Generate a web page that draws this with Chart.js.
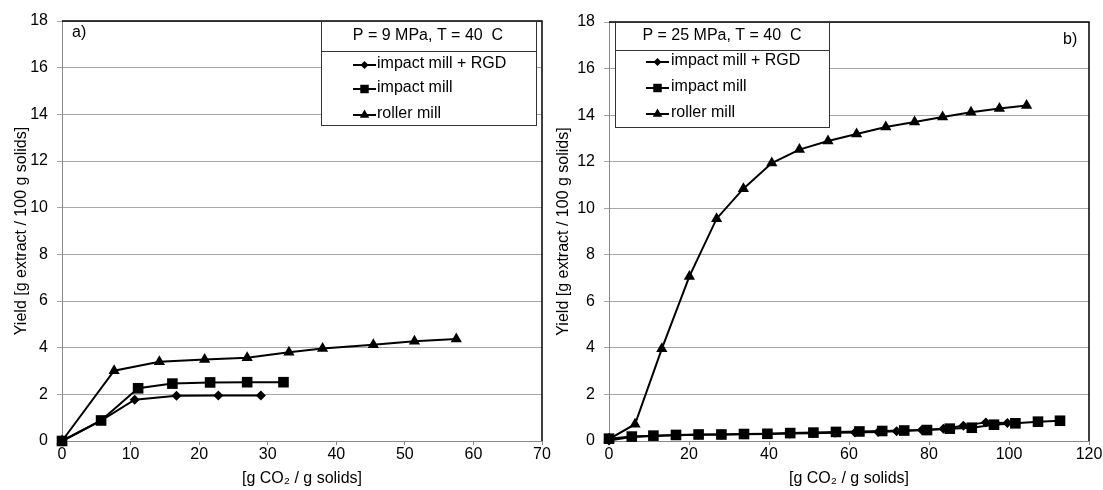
<!DOCTYPE html>
<html>
<head>
<meta charset="utf-8">
<script src="https://cdn.jsdelivr.net/npm/chart.js@4"></script>
<style>
  body { margin: 0; background: #fff; }
  .panel { position: absolute; top: 0; }
</style>
</head>
<body>
<div class="panel" style="left:0"><canvas id="chartA" width="551" height="490"></canvas></div>
<div class="panel" style="left:551px"><canvas id="chartB" width="552" height="490"></canvas></div>
<script>
// Panel a) P = 9 MPa
const aRgdX = [0, 5.7, 10.6, 16.7, 22.8, 29.0];
const aRgdY = [0, 0.87, 1.77, 1.94, 1.95, 1.95];
const aImpactX = [0, 5.7, 11.1, 16.1, 21.6, 27.0, 32.3];
const aImpactY = [0, 0.88, 2.26, 2.46, 2.51, 2.52, 2.52];
const aRollerX = [0, 7.6, 14.2, 20.8, 27.0, 33.1, 38.0, 45.4, 51.4, 57.5];
const aRollerY = [0, 3.01, 3.40, 3.49, 3.57, 3.80, 3.96, 4.13, 4.27, 4.37];

// Panel b) P = 25 MPa
const bRgdX = [0, 5.6, 11.0, 16.7, 22.3, 28.0, 33.7, 39.4, 45.2, 51.1, 56.5, 61.5, 67.3, 71.9, 78.2, 83.6, 88.6, 94.2, 99.6];
const bRgdY = [0.02, 0.17, 0.22, 0.25, 0.27, 0.28, 0.29, 0.30, 0.32, 0.33, 0.35, 0.37, 0.39, 0.42, 0.47, 0.53, 0.66, 0.80, 0.77];
const bImpactX = [0, 5.7, 11.1, 16.75, 22.4, 28.1, 33.75, 39.6, 45.3, 51.1, 56.75, 62.6, 68.3, 73.8, 79.5, 85.2, 90.7, 96.25, 101.6, 107.25, 112.75];
const bImpactY = [0.1, 0.19, 0.23, 0.26, 0.28, 0.28, 0.30, 0.31, 0.34, 0.36, 0.39, 0.41, 0.43, 0.45, 0.47, 0.53, 0.57, 0.70, 0.76, 0.83, 0.87];
const bRollerX = [0, 6.5, 13.2, 20.1, 26.9, 33.6, 40.7, 47.6, 54.75, 61.9, 69.2, 76.4, 83.4, 90.5, 97.6, 104.4];
const bRollerY = [0.08, 0.72, 3.96, 7.07, 9.55, 10.84, 11.94, 12.52, 12.89, 13.19, 13.49, 13.70, 13.92, 14.12, 14.28, 14.41];

const seriesNames = ['impact mill + RGD', 'impact mill', 'roller mill'];
const yTicksMax = 18;

const FONT = '"Liberation Sans", Arial, sans-serif';
const font16 = { family: FONT, size: 16 };
const markerStyles = ['rectRot', 'rect', 'triangle'];
const markerRadius = [5, 7.5, 6.5];
const legendRadius = [4, 6, 5.5];

const pairs = (xs, ys) => xs.map((x, i) => ({ x: x, y: ys[i] }));

const makeDataset = (idx, xs, ys) => ({
    label: seriesNames[idx],
    data: pairs(xs, ys),
    showLine: true,
    clip: false,
    borderColor: '#000',
    backgroundColor: '#000',
    borderWidth: 2,
    pointStyle: markerStyles[idx],
    pointRadius: markerRadius[idx],
    pointBorderWidth: 0,
    pointBackgroundColor: '#000',
    tension: 0
});

// frame, panel label and the boxed legend
const decoPlugin = {
    id: 'deco',
    afterDraw(chart, args, opts) {
        const ctx = chart.ctx;
        const a = chart.chartArea;
        ctx.save();
        // black top and right border of the plot area
        ctx.strokeStyle = '#000';
        ctx.lineWidth = 1.5;
        ctx.beginPath();
        ctx.moveTo(a.left, a.top);
        ctx.lineTo(a.right, a.top);
        ctx.lineTo(a.right, a.bottom);
        ctx.stroke();

        ctx.font = '16px ' + FONT;
        ctx.fillStyle = '#000';
        ctx.textBaseline = 'middle';
        ctx.textAlign = 'left';
        ctx.fillText(opts.label, opts.labelX, opts.labelY);

        // legend box
        const b = opts.box;
        ctx.fillStyle = '#fff';
        ctx.fillRect(b.x1, b.y1, b.x2 - b.x1, b.y2 - b.y1);
        ctx.strokeStyle = '#333';
        ctx.lineWidth = 1;
        ctx.strokeRect(b.x1 + 0.5, b.y1 + 0.5, b.x2 - b.x1, b.y2 - b.y1);
        ctx.beginPath();
        ctx.moveTo(b.x1, b.div + 0.5);
        ctx.lineTo(b.x2, b.div + 0.5);
        ctx.stroke();

        ctx.fillStyle = '#000';
        ctx.textAlign = 'center';
        ctx.fillText(opts.header, opts.headerX, opts.headerY);

        ctx.textAlign = 'left';
        opts.rows.forEach((ry, i) => {
            ctx.strokeStyle = '#000';
            ctx.lineWidth = 2;
            ctx.beginPath();
            ctx.moveTo(opts.mark1, ry);
            ctx.lineTo(opts.mark2, ry);
            ctx.stroke();
            ctx.fillStyle = '#000';
            Chart.helpers.drawPoint(ctx, {
                pointStyle: markerStyles[i],
                radius: legendRadius[i],
                borderWidth: 0,
                rotation: 0
            }, (opts.mark1 + opts.mark2) / 2, ry);
            ctx.fillStyle = '#000';
            ctx.fillText(seriesNames[i], opts.textX, ry - 1);
        });
        ctx.restore();
    }
};

const makeOptions = (xMax, xStep, yWidth, yTitlePad, padding, deco) => ({
    responsive: false,
    animation: false,
    layout: { padding: padding },
    plugins: {
        legend: { display: false },
        tooltip: { enabled: false },
        deco: deco
    },
    scales: {
        x: {
            type: 'linear',
            min: 0,
            max: xMax,
            ticks: { stepSize: xStep, color: '#000', font: font16, padding: 0, maxRotation: 0 },
            grid: { drawOnChartArea: false, drawTicks: true, tickLength: 4, color: '#888' },
            border: { color: '#888', width: 1 },
            title: { display: true, text: '[g CO\u2082 / g solids]', color: '#000', font: font16, padding: { top: 0, bottom: 2 } },
            afterFit: (s) => { s.height = 49; }
        },
        y: {
            type: 'linear',
            min: 0,
            max: yTicksMax,
            ticks: { stepSize: 2, color: '#000', font: font16, padding: 9 },
            grid: { color: '#a6a6a6', tickLength: 5, lineWidth: 1 },
            border: { color: '#888', width: 1 },
            title: { display: true, text: 'Yield [g extract / 100 g solids]', color: '#000', font: font16, padding: { top: yTitlePad, bottom: 0 } },
            afterFit: (s) => { s.width = yWidth; }
        }
    }
});

new Chart(document.getElementById('chartA'), {
    type: 'scatter',
    data: {
        datasets: [
            makeDataset(0, aRgdX, aRgdY),
            makeDataset(1, aImpactX, aImpactY),
            makeDataset(2, aRollerX, aRollerY)
        ]
    },
    options: makeOptions(70, 10, 62, 12, { left: 0, top: 21, right: 9, bottom: 0 }, {
        label: 'a)', labelX: 72, labelY: 33,
        box: { x1: 321, y1: 21, x2: 536, y2: 125, div: 51 },
        header: 'P = 9 MPa, T = 40  C', headerX: 428, headerY: 36,
        rows: [65, 89, 115], mark1: 353, mark2: 376, textX: 377
    }),
    plugins: [decoPlugin]
});

new Chart(document.getElementById('chartB'), {
    type: 'scatter',
    data: {
        datasets: [
            makeDataset(0, bRgdX, bRgdY),
            makeDataset(1, bImpactX, bImpactY),
            makeDataset(2, bRollerX, bRollerY)
        ]
    },
    options: makeOptions(120, 20, 58, 3, { left: 0, top: 22, right: 14, bottom: 0 }, {
        label: 'b)', labelX: 512, labelY: 40,
        box: { x1: 64, y1: 22, x2: 278, y2: 127, div: 50 },
        header: 'P = 25 MPa, T = 40  C', headerX: 171, headerY: 36,
        rows: [62, 88, 114], mark1: 95, mark2: 118, textX: 120
    }),
    plugins: [decoPlugin]
});
</script>
</body>
</html>
